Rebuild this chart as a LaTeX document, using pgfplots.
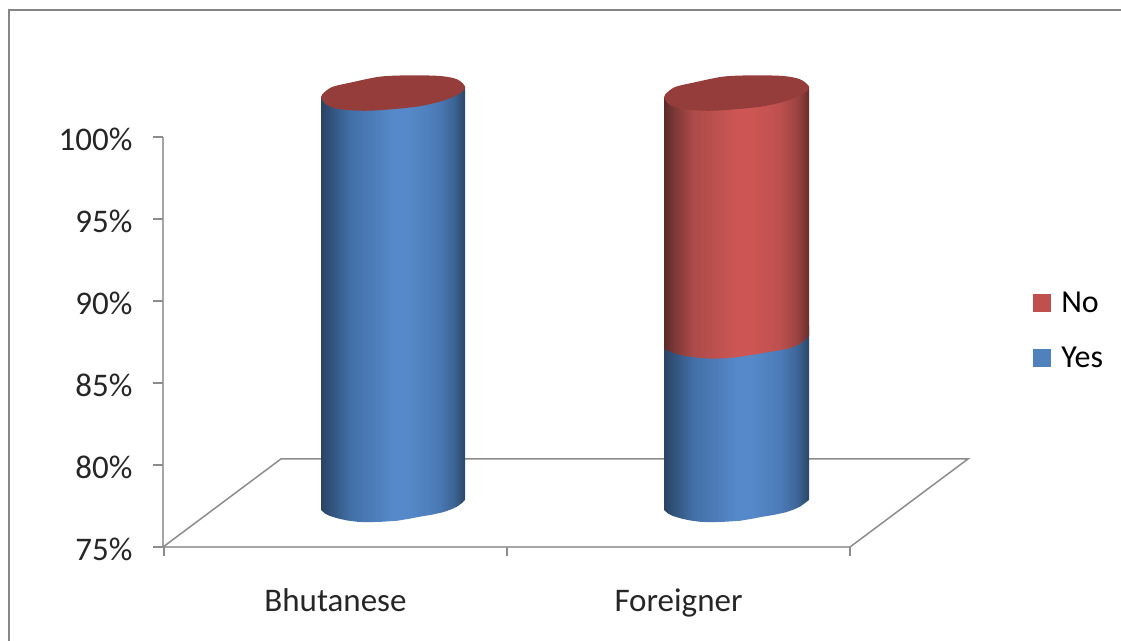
\documentclass[border=0pt]{standalone}
\usepackage{fontspec}
\setmainfont{Carlito}
\usepackage{pgfplots}
\pgfplotsset{compat=1.18}
\definecolor{axgray}{HTML}{A6A6A6}
\definecolor{tickgray}{HTML}{8C8C8C}
\definecolor{frame}{HTML}{868686}
\definecolor{capred}{HTML}{943D3B}
\definecolor{bA}{HTML}{2A4365}\definecolor{bB}{HTML}{33557F}\definecolor{bC}{HTML}{426FA6}
\definecolor{bD}{HTML}{5689C9}\definecolor{bE}{HTML}{4B7CB8}\definecolor{bF}{HTML}{3D6596}\definecolor{bG}{HTML}{2C4667}
\definecolor{rA}{HTML}{5A2A29}\definecolor{rB}{HTML}{7F3A38}\definecolor{rC}{HTML}{AB4B49}
\definecolor{rD}{HTML}{CD5654}\definecolor{rE}{HTML}{BD504E}\definecolor{rF}{HTML}{9A4341}\definecolor{rG}{HTML}{652D2C}
\definecolor{legred}{HTML}{C0504D}
\definecolor{legblue}{HTML}{4F81BD}
\pgfdeclarehorizontalshading{cylblue}{100bp}{color(0bp)=(bA);color(25bp)=(bA);color(29bp)=(bB);color(35bp)=(bC);color(50bp)=(bD);color(55bp)=(bD);color(65bp)=(bE);color(71bp)=(bF);color(75bp)=(bG);color(100bp)=(bG)}
\pgfdeclarehorizontalshading{cylred}{100bp}{color(0bp)=(rA);color(25bp)=(rA);color(29bp)=(rB);color(35bp)=(rC);color(50bp)=(rD);color(55bp)=(rD);color(65bp)=(rE);color(71bp)=(rF);color(75bp)=(rG);color(100bp)=(rG)}
\begin{document}
\begin{tikzpicture}
\begin{axis}[
  scale only axis, width=687pt, height=410pt,
  xmin=163, xmax=850, ymin=75, ymax=100,
  clip=false,
  axis x line=bottom, axis y line=left,
  axis line style={-, draw=axgray, line width=2pt},
  tick align=outside,
  major tick length=0pt,
  ytick={75,80,85,90,95,100},
  yticklabel={\pgfmathprintnumber{\tick}\%},
  /pgf/number format/assume math mode=true,
  xtick={335.5,678.5},
  xticklabels={Bhutanese,Foreigner},
  every tick label/.append style={font=\fontsize{33}{38}\selectfont, text=black!85},
  yticklabel style={xshift=-27pt, yshift=-2pt},
  xticklabel style={yshift=-38pt},
  legend style={at={(1.2665,0.627)}, anchor=north west, draw=none, fill=none,
    font=\fontsize{32}{38}\selectfont, row sep=29pt, inner sep=0pt},
  legend cell align=left,
  legend image code/.code={\fill[#1, draw=none] (0pt,-9pt) rectangle (18pt,9pt); \path[draw=none, fill=none] (0pt,0pt) -- (26pt,0pt);},
]
\path[use as bounding box] (axis cs:0,69.27) rectangle (axis cs:1121,108.354);
% frame
\addplot[forget plot, draw=frame, line width=2.6pt] coordinates {(9,69.27)(9,107.74)(1121,107.74)};
% y ticks and x ticks
\addplot[forget plot, draw=tickgray, line width=1.6pt] coordinates {(153,100)(163,100)};
\addplot[forget plot, draw=tickgray, line width=1.6pt] coordinates {(153,95)(163,95)};
\addplot[forget plot, draw=tickgray, line width=1.6pt] coordinates {(153,90)(163,90)};
\addplot[forget plot, draw=tickgray, line width=1.6pt] coordinates {(153,85)(163,85)};
\addplot[forget plot, draw=tickgray, line width=1.6pt] coordinates {(153,80)(163,80)};
\addplot[forget plot, draw=tickgray, line width=1.6pt] coordinates {(153,75)(163,75)};
\addplot[forget plot, draw=tickgray, line width=1.6pt] coordinates {(164,75)(164,74.45)};
\addplot[forget plot, draw=tickgray, line width=1.6pt] coordinates {(507,75)(507,74.45)};
\addplot[forget plot, draw=tickgray, line width=1.6pt] coordinates {(850,75)(850,74.45)};
% floor
\addplot[forget plot, draw=tickgray, line width=1.5pt] coordinates {(163,75)(281,80.37)(968,80.37)(850,75)};
% Bhutanese, Yes
\addplot[forget plot, draw=none, shade, shading=cylblue] coordinates {
 (321,102.42)(321,77.26)(325,77.04)(330,76.89)(338,76.74)(347,76.62)(357,76.54)(367,76.51)(382,76.54)(397,76.60)(409,76.72)(420,76.85)(432,76.97)(443,77.12)(451,77.29)(457,77.46)(462,77.68)(465,77.87)(465,103.07)} -- cycle;
\addplot[forget plot, draw=none, fill=capred, smooth cycle, tension=0.5] coordinates {
 (321,102.42)(325,102.76)(333,103.07)(350,103.31)(380,103.68)(410,103.76)(440,103.72)(457,103.52)(465,103.07)(460,102.66)(443,102.21)(417,101.85)(383,101.65)(363,101.60)(340,101.69)(327,101.95)};
% Foreigner, Yes
\addplot[forget plot, draw=none, shade, shading=cylblue] coordinates {
 (664,88)(664,77.26)(668,77.04)(673,76.89)(681,76.74)(690,76.62)(700,76.54)(710,76.51)(725,76.54)(740,76.60)(752,76.72)(763,76.85)(775,76.97)(786,77.12)(794,77.29)(800,77.46)(805,77.68)(809,77.87)(809,88.5)} -- cycle;
% Foreigner, No
\addplot[forget plot, draw=none, shade, shading=cylred] coordinates {
 (664,102.42)(664,87.07)(673,86.84)(683,86.66)(698,86.54)(713,86.48)(727,86.51)(740,86.60)(754,86.73)(767,86.87)(779,86.99)(790,87.12)(797,87.29)(803,87.52)(809,87.87)(809,103.07)} -- cycle;
\addplot[forget plot, draw=none, fill=capred, smooth cycle, tension=0.5] coordinates {
 (664,102.42)(668,102.76)(676,103.07)(693,103.31)(723,103.68)(753,103.76)(783,103.72)(800,103.52)(809,103.07)(804,102.66)(787,102.21)(761,101.85)(727,101.65)(707,101.60)(684,101.69)(670,101.95)};
\addlegendimage{legred}
\addlegendimage{legblue}
\legend{No,Yes}
\end{axis}
\end{tikzpicture}
\end{document}
